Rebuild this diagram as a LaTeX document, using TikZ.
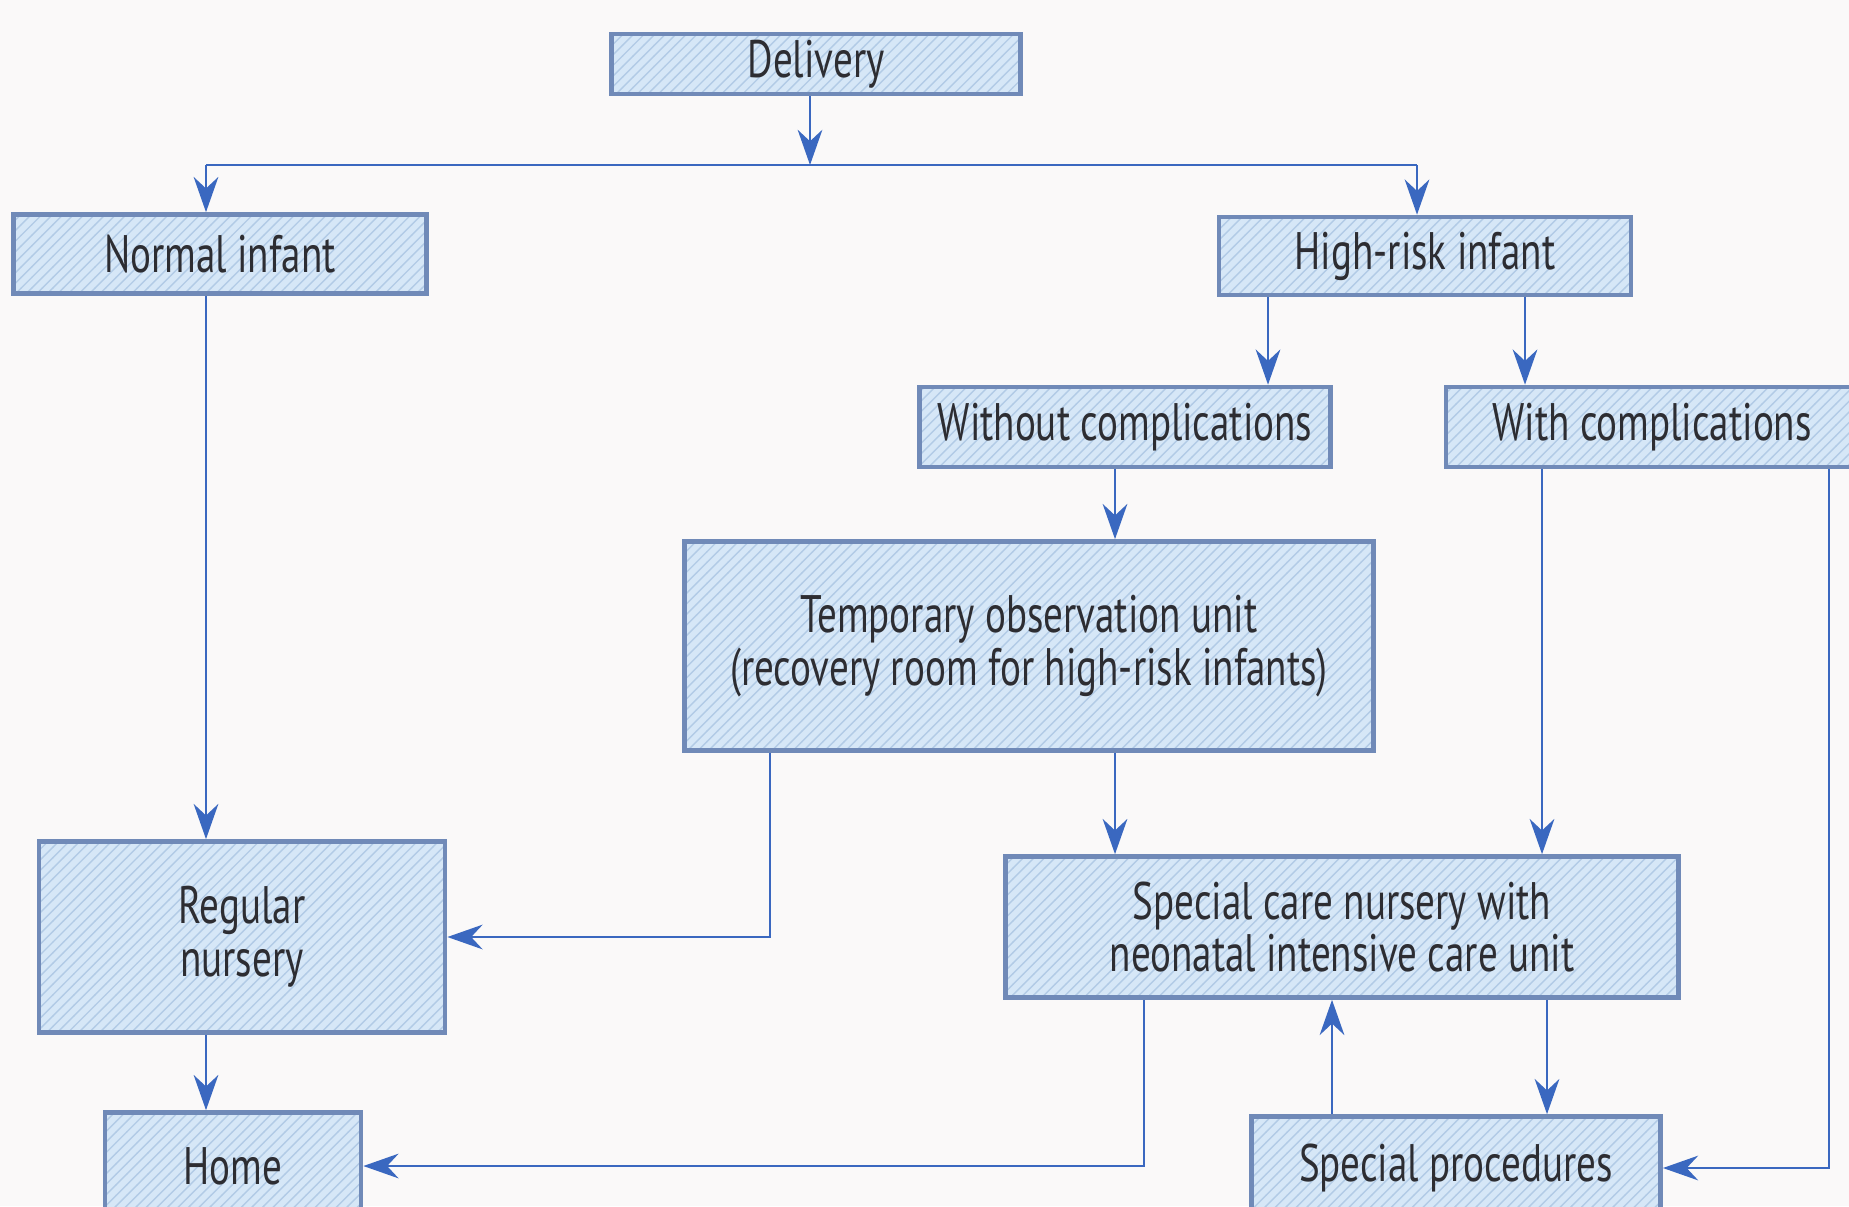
\documentclass[tikz,border=0pt]{standalone}
\usepackage{fontspec}
\setmainfont{PT Sans}[FakeStretch=0.74]
\usetikzlibrary{arrows.meta,patterns}
\begin{document}
\begin{tikzpicture}[x=0.01cm,y=-0.01cm,
  box/.style={draw=boxline, line width=1.3pt, preaction={fill=boxfill}, pattern=north east lines, pattern color=hatch,
    font=\fontsize{15}{15}\selectfont, text=textcol, inner sep=0pt, align=center},
  conn/.style={draw=arrowcol, line width=0.8pt, -{Stealth[length=10pt,width=7pt]}},
  line/.style={draw=arrowcol, line width=0.8pt}]
\definecolor{paper}{RGB}{250,249,249}
\definecolor{boxfill}{RGB}{214,231,247}
\definecolor{hatch}{RGB}{178,203,230}
\definecolor{boxline}{RGB}{112,138,184}
\definecolor{arrowcol}{RGB}{58,104,192}
\definecolor{textcol}{RGB}{45,45,50}
\clip (0,0) rectangle (1849,1206);
\fill [paper] (0,0) rectangle (1849,1206);
\node [box, minimum width=4.09cm, minimum height=0.60cm] (deliv) at (816,64) {Delivery};
\node [box, minimum width=4.13cm, minimum height=0.79cm] (normal) at (220,254) {Normal infant};
\node [box, minimum width=4.12cm, minimum height=0.78cm] (highrisk) at (1425,256) {High-risk infant};
\node [box, minimum width=4.11cm, minimum height=0.80cm] (without) at (1125,427) {Without complications};
\node [box, minimum width=4.12cm, minimum height=0.80cm] (withc) at (1652,427) {With complications};
\node [box, minimum width=6.89cm, minimum height=2.09cm] (temp) at (1029,646) {Temporary observation unit\\(recovery room for high-risk infants)};
\node [box, minimum width=4.06cm, minimum height=1.91cm] (regular) at (242,937) {Regular\\nursery};
\node [box, minimum width=6.73cm, minimum height=1.41cm] (special) at (1342,927) {Special care nursery with\\neonatal intensive care unit};
\node [box, minimum width=2.56cm, minimum height=1.07cm] (home) at (233,1166) {Home};
\node [box, minimum width=4.09cm, minimum height=1.03cm] (proc) at (1456,1168) {Special procedures};
\coordinate (busL) at (206,165);
\coordinate (busM) at (810,165);
\coordinate (busR) at (1417,165);
\coordinate (cwo) at (1268,0);
\coordinate (cwi) at (1525,0);
\coordinate (ctemp) at (1115,0);
\coordinate (creg) at (770,0);
\coordinate (cspec) at (1542,0);
\coordinate (cside) at (1829,0);
\coordinate (chome) at (1144,0);
\coordinate (cdown) at (1547,0);
\coordinate (cup) at (1332,0);
\draw [conn] (deliv.south -| busM) -- (busM);
\draw [line] (busL) -- (busR);
\draw [conn] (busL) -- (normal.north -| busL);
\draw [conn] (busR) -- (highrisk.north -| busR);
\draw [conn] (highrisk.south -| cwo) -- (without.north -| cwo);
\draw [conn] (highrisk.south -| cwi) -- (withc.north -| cwi);
\draw [conn] (without.south -| ctemp) -- (temp.north -| ctemp);
\draw [conn] (normal.south -| busL) -- (regular.north -| busL);
\draw [conn] (temp.south -| creg) |- (regular.east);
\draw [conn] (temp.south -| ctemp) -- (special.north -| ctemp);
\draw [conn] (withc.south -| cspec) -- (special.north -| cspec);
\draw [conn] (withc.south -| cside) |- (proc.east);
\draw [conn] (special.south -| chome) |- (home.east);
\draw [conn] (special.south -| cdown) -- (proc.north -| cdown);
\draw [conn] (proc.north -| cup) -- (special.south -| cup);
\draw [conn] (regular.south -| busL) -- (home.north -| busL);
\end{tikzpicture}
\end{document}
